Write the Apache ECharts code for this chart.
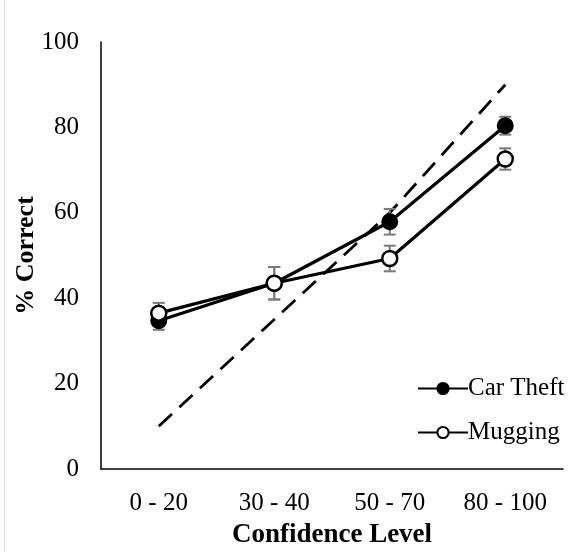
<!DOCTYPE html>
<html>
<head>
<meta charset="utf-8">
<script src="https://cdn.jsdelivr.net/npm/echarts@6/dist/echarts.min.js"></script>
<style>
  html, body { margin: 0; padding: 0; background: #fff; }
  #chart { width: 571px; height: 552px; }
</style>
</head>
<body>
<div id="chart"></div>
<script>
// 类别 / 数据
var categories = ['0 - 20', '30 - 40', '50 - 70', '80 - 100'];
var carTheft = [34.7, 43.5, 57.9, 80.4];
var carTheftErr = [2.1, 3.8, 3.0, 2.1];
var mugging = [36.5, 43.5, 49.3, 72.6];
var muggingErr = [2.4, 3.8, 3.0, 2.5];
var calibration = [10, 35, 60, 90];
var yTicks = [0, 20, 40, 60, 80, 100];

var serif = '"Liberation Serif", "Times New Roman", serif';

// 误差线数据 [index, low, high]
var toErr = function(vals, errs) {
	return vals.map(function(v, i) { return [i, v - errs[i], v + errs[i]]; });
};

var errRender = function(params, api) {
	var x = api.value(0);
	var top = api.coord([x, api.value(2)]);
	var bot = api.coord([x, api.value(1)]);
	var half = 6;
	var style = { stroke: '#7a7a7a', lineWidth: 2 };
	return {
		type: 'group',
		children: [
			{ type: 'line', shape: { x1: top[0], y1: top[1], x2: bot[0], y2: bot[1] }, style: style },
			{ type: 'line', shape: { x1: top[0] - half, y1: top[1], x2: top[0] + half, y2: top[1] }, style: style },
			{ type: 'line', shape: { x1: bot[0] - half, y1: bot[1], x2: bot[0] + half, y2: bot[1] }, style: style }
		]
	};
};

var myChart = echarts.init(document.getElementById('chart'));
myChart.setOption({
	animation: false,
	backgroundColor: '#fff',
	graphic: [{
		type: 'line',
		shape: { x1: 4.5, y1: 0, x2: 4.5, y2: 552 },
		style: { stroke: '#e0e0e0', lineWidth: 1 }
	}],
	grid: { left: 101, top: 42, right: 8, bottom: 83, outerBoundsMode: 'none' },
	legend: {
		orient: 'vertical',
		left: 412,
		top: 371,
		itemWidth: 50,
		itemHeight: 14,
		itemGap: 19,
		data: ['Car Theft', 'Mugging'],
		textStyle: { fontFamily: serif, fontSize: 25, color: '#000', padding: [0, 0, 0, -5] }
	},
	xAxis: {
		type: 'category',
		data: categories,
		boundaryGap: true,
		name: 'Confidence Level',
		nameLocation: 'middle',
		nameGap: 53,
		nameMoveOverlap: false,
		nameTextStyle: { fontFamily: serif, fontSize: 27, fontWeight: 'bold', color: '#000' },
		axisLine: { lineStyle: { color: '#000', width: 1.5 } },
		axisTick: { show: false },
		axisLabel: { fontFamily: serif, fontSize: 25, color: '#000', margin: 22 }
	},
	yAxis: {
		type: 'value',
		min: yTicks[0],
		max: yTicks[yTicks.length - 1],
		interval: 20,
		name: '% Correct',
		nameLocation: 'middle',
		nameGap: 62,
		nameMoveOverlap: false,
		nameTextStyle: { fontFamily: serif, fontSize: 26, fontWeight: 'bold', color: '#000' },
		axisLine: { show: true, lineStyle: { color: '#000', width: 1.5 } },
		axisTick: { show: false },
		splitLine: { show: false },
		axisLabel: { fontFamily: serif, fontSize: 25, color: '#000', margin: 22 }
	},
	series: [
		{
			name: 'calibration',
			type: 'line',
			data: calibration,
			symbol: 'none',
			z: 1,
			lineStyle: { color: '#000', width: 2.8, type: [18, 10] }
		},
		{
			name: 'carErr',
			type: 'custom',
			renderItem: errRender,
			data: toErr(carTheft, carTheftErr),
			z: 2
		},
		{
			name: 'mugErr',
			type: 'custom',
			renderItem: errRender,
			data: toErr(mugging, muggingErr),
			z: 2
		},
		{
			name: 'Car Theft',
			type: 'line',
			data: carTheft,
			symbol: 'circle',
			symbolSize: 15,
			z: 3,
			lineStyle: { color: '#000', width: 3.2 },
			itemStyle: { color: '#000', borderColor: '#000', borderWidth: 2 }
		},
		{
			name: 'Mugging',
			type: 'line',
			data: mugging,
			symbol: 'circle',
			symbolSize: 15,
			z: 3,
			lineStyle: { color: '#000', width: 3.2 },
			itemStyle: { color: '#fff', borderColor: '#000', borderWidth: 2.5 }
		}
	]
});
</script>
</body>
</html>
